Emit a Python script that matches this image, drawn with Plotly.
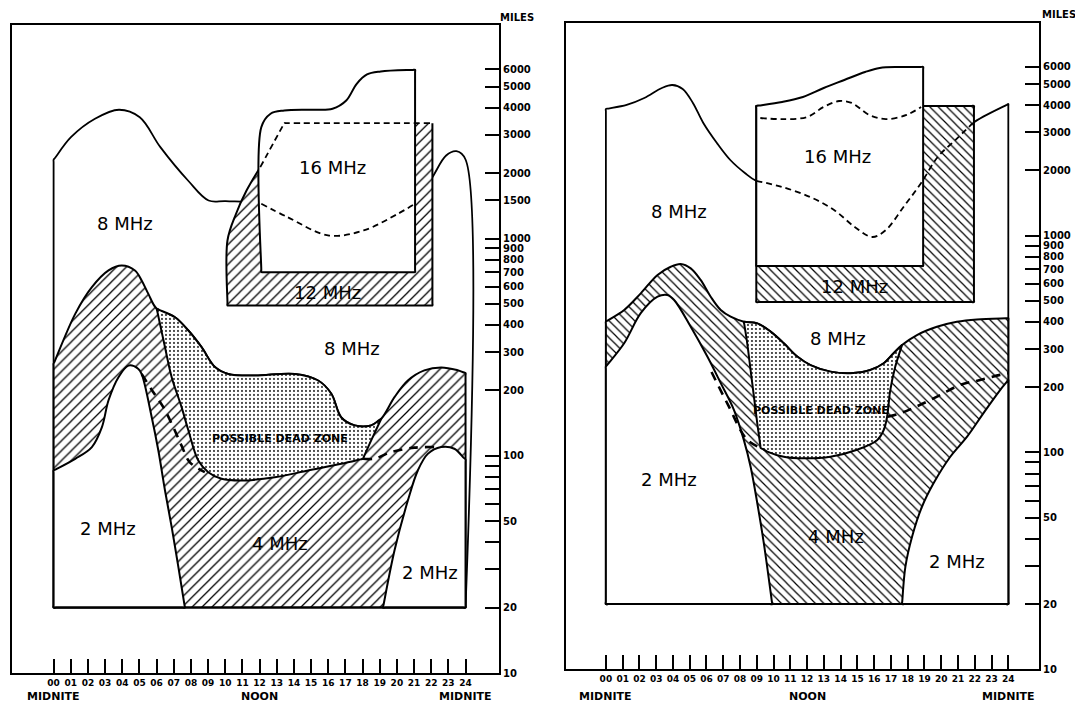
import math
import plotly.graph_objects as go

# ---------------- axis values ----------------
HOURS = list(range(25))
HOUR_LABELS = ["00", "01", "02", "03", "04", "05", "06", "07", "08", "09", "10", "11", "12",
               "13", "14", "15", "16", "17", "18", "19", "20", "21", "22", "23", "24"]
TIME_WORDS = ["MIDNITE", "NOON", "MIDNITE"]
TIME_WORD_HOURS = [0, 12, 24]

L_MILE_TICKS = [10, 20, 30, 40, 50, 60, 70, 80, 90, 100, 200, 300, 400, 500, 600, 700,
                800, 900, 1000, 1500, 2000, 3000, 4000, 5000, 6000]
L_MILE_LABELS = ["10", "20", "", "", "50", "", "", "", "", "100", "200", "300", "400", "500",
                 "600", "700", "800", "900", "1000", "1500", "2000", "3000", "4000", "5000", "6000"]
R_MILE_TICKS = [10, 20, 30, 40, 50, 60, 70, 80, 90, 100, 200, 300, 400, 500, 600, 700,
                800, 900, 1000, 2000, 3000, 4000, 5000, 6000]
R_MILE_LABELS = ["10", "20", "", "", "50", "", "", "", "", "100", "200", "300", "400", "500",
                 "600", "700", "800", "900", "1000", "2000", "3000", "4000", "5000", "6000"]

# ---------------- LEFT PANEL (hours, miles) ----------------
L_SKY8_H = [0, 0, 1.01, 2.41, 3.81, 5.02, 6.22, 7.83, 9.03, 10.03, 12.10, 13.64, 16.05, 18.06,
            20.06, 21.06, 22.07, 22.87, 23.47, 24, 24]
L_SKY8_M = [20, 2303, 2926, 3557, 3915, 3616, 2633, 1849, 1496, 1486, 1445, 1253, 1032, 1089,
            1300, 1445, 1915, 2410, 2523, 2310, 20]
L_MHZ12_H = [10.13, 10.13, 10.63, 11.24, 12.04, 13.44, 22.07, 22.07]
L_MHZ12_M = [492, 979, 1300, 1663, 2130, 3396, 3396, 492]
L_MHZ16_H = [12.10, 12.10, 12.64, 13.44, 15.05, 16.25, 17.05, 17.66, 18.26, 19.06, 21.06, 21.06]
L_MHZ16_M = [700, 3252, 3750, 3883, 3915, 3955, 4318, 5155, 5690, 5873, 5980, 700]
L_BAND_H = [0, 1.26, 2.23, 3.20, 3.97, 4.74, 5.13, 5.52]
L_BAND_M = [265, 450, 597, 713, 751, 713, 641, 556]
L_DEAD_TOP_H = [6.01, 7.07, 7.85, 8.62, 9.40, 10.17, 11.72, 14.05, 15.41, 16.18, 16.76, 17.54,
                18.51, 19.09]
L_DEAD_TOP_M = [475, 434, 377, 316, 256, 238, 234, 238, 222, 193, 150, 138, 138, 148]
L_BUMP_H = [19.86, 20.64, 21.6, 22.58, 23.5, 24]
L_BUMP_M = [186, 222, 247, 255, 248, 240]
L_DEAD_LOW_H = [18.41, 18.02, 16.76, 14.83, 12.88, 10.95, 9.78, 9.01, 8.43, 7.85, 7.46, 6.88, 6.49]
L_DEAD_LOW_M = [113.5, 96.8, 91.8, 85.5, 79.6, 76.9, 78.3, 84, 95, 131, 167, 230, 316]
L_2A_H = [0, 0, 1.26, 2.23, 2.81, 3.20, 3.78, 4.36, 4.94, 5.13, 5.72, 6.10, 6.49, 6.88, 7.27, 7.65]
L_2A_M = [20, 85.5, 96.8, 109.6, 135, 180, 230, 260, 251, 238, 150, 106, 69.2, 46.9, 30.7, 20]
L_2B_H = [19.19, 19.86, 20.64, 21.22, 21.80, 22.58, 23.35, 24, 24]
L_2B_M = [20, 36.6, 62.2, 85.5, 102, 109.6, 107.7, 96, 20]
L_SKIP1_H = [5.13, 5.81, 6.40, 6.98, 7.46, 7.94, 8.81]
L_SKIP1_M = [238, 196, 167, 135, 111, 93.3, 84]
L_SKIP2_H = [18.02, 18.7, 19.67, 21.02, 22.19]
L_SKIP2_M = [96.8, 97, 104, 109, 109.6]
L_LABELS = ["8 MHz", "16 MHz", "12 MHz", "8 MHz", "POSSIBLE DEAD ZONE", "2 MHz", "4 MHz", "2 MHz"]
L_LABEL_H = [4.15, 16.24, 15.95, 17.4, 13.2, 3.16, 13.2, 21.95]
L_LABEL_M = [1172, 2123, 563, 312, 120, 46.3, 39.5, 29]

# ---------------- RIGHT PANEL (hours, miles) ----------------
R_SKY8_H = [0, 0, 1.24, 2.29, 3.34, 3.96, 4.58, 5.19, 5.81, 6.62, 7.42, 8.29, 8.97, 10.51, 12.18,
            13.61, 14.84, 15.89, 16.70, 17.75, 18.80, 19.79, 20.84, 21.89, 24, 24]
R_SKY8_M = [20, 3840, 4010, 4315, 4800, 4955, 4750, 4095, 3311, 2677, 2234, 1946, 1790, 1678,
            1508, 1314, 1097, 986, 1063, 1357, 1750, 2307, 2762, 3311, 4050, 20]
R_MHZ12_H = [8.97, 8.97, 21.95, 21.95]
R_MHZ12_M = [494, 3965, 3965, 494]
R_MHZ16_H = [8.97, 8.97, 10.51, 11.75, 12.99, 14.22, 15.46, 16.33, 17.56, 18.92, 18.92]
R_MHZ16_M = [725, 3965, 4140, 4365, 4800, 5225, 5690, 5940, 5995, 6000, 725]
R_TOP12_H = [9.21, 10.51, 12.0, 12.99, 13.91, 14.66, 15.71, 16.70, 17.93, 18.80]
R_TOP12_M = [3490, 3450, 3525, 3925, 4180, 4095, 3605, 3450, 3605, 3925]
R_BAND_H = [0, 1.09, 2.08, 3.08, 3.87, 4.46, 5.06, 5.65, 6.25, 6.85, 7.44]
R_BAND_M = [401, 454, 542, 659, 719, 740, 707, 625, 523, 454, 423]
R_DEAD_TOP_H = [8.23, 9.03, 9.82, 10.61, 11.41, 12.20, 13.39, 14.58, 15.77, 16.57, 17.16, 17.66]
R_DEAD_TOP_M = [401, 394, 361, 319, 277, 253, 236, 232, 240, 258, 287, 313]
R_BUMP_H = [18.55, 19.74, 20.93, 22.13, 24]
R_BUMP_M = [348, 380, 401, 411, 416]
R_DEAD_LOW_H = [17.26, 16.96, 16.77, 16.57, 16.17, 14.98, 13.39, 11.80, 10.61, 9.62, 9.23, 9.03,
                8.83, 8.63, 8.43]
R_DEAD_LOW_M = [249, 194, 146, 127, 114, 103, 95.6, 94, 95.6, 101, 105, 136, 181, 240, 319]
R_2A_H = [0, 0, 1.09, 2.08, 3.08, 3.67, 4.07, 5.06, 6.05, 6.85, 7.64, 8.23, 8.63, 9.03, 9.42, 9.92]
R_2A_M = [20, 249, 319, 439, 523, 533, 505, 380, 277, 209, 157, 114, 86, 58.3, 38.1, 20]
R_2B_H = [17.66, 17.86, 18.26, 18.85, 19.54, 20.54, 21.53, 22.52, 23.51, 24, 24]
R_2B_M = [20, 29.7, 40.9, 56.2, 72.1, 95.6, 118, 152, 194, 216, 20]
R_SKIP1_H = [6.3, 7.3, 8.4, 9.23]
R_SKIP1_M = [235, 165, 115, 105]
R_SKIP2_H = [16.8, 17.6, 18.75, 19.94, 21.13, 22.32, 23.51, 24]
R_SKIP2_M = [146, 152, 166, 184, 205, 216, 228, 232]
R_LABELS = ["8 MHz", "16 MHz", "12 MHz", "8 MHz", "POSSIBLE DEAD ZONE", "2 MHz", "4 MHz", "2 MHz"]
R_LABEL_H = [4.35, 13.8, 14.8, 13.85, 12.85, 3.74, 13.75, 20.95]
R_LABEL_M = [1291, 2314, 582, 337, 157, 74.7, 40.9, 31.4]

BASE_H = [0, 24]
BASE_M = [20, 20]

# ---------------- drawing helpers ----------------
PX_H = 17.0
PX_DEC = 217.0
fig = go.Figure()


def sharpen(hs, ms, corners, closed):
    n = len(hs)
    lg = [math.log10(m) for m in ms]

    def near(i, j):
        dh = hs[j] - hs[i]
        dl = lg[j] - lg[i]
        d = math.hypot(dh * PX_H, dl * PX_DEC)
        t = min(0.3, 2.5 / d) if d > 0 else 0.0
        return hs[i] + t * dh, 10 ** (lg[i] + t * dl)

    H, M = [], []
    for i in range(n):
        if i in corners:
            p = i - 1 if i > 0 else (n - 1 if closed else None)
            q = i + 1 if i < n - 1 else (0 if closed else None)
            if p is not None:
                a, b = near(i, p)
                H.append(a); M.append(b)
            H.append(hs[i]); M.append(ms[i])
            if q is not None:
                a, b = near(i, q)
                H.append(a); M.append(b)
        else:
            H.append(hs[i]); M.append(ms[i])
    if closed:
        H.append(H[0]); M.append(M[0])
    return H, M


def poly(xa, ya, hs, ms, corners, pattern=None, size=7, solidity=0.2, lw=2.0):
    H, M = sharpen(hs, ms, corners, True)
    kw = dict(x=H, y=M, xaxis=xa, yaxis=ya, mode="lines", fill="toself", fillcolor="white",
              line=dict(color="black", width=lw, shape="spline", smoothing=1.0),
              hoverinfo="skip", showlegend=False)
    if pattern:
        kw["fillpattern"] = dict(shape=pattern, fgcolor="black", bgcolor="white", size=size,
                                 solidity=solidity, fillmode="replace")
    fig.add_trace(go.Scatter(**kw))


def path(xa, ya, hs, ms, corners=(), lw=2.0, dash="solid"):
    H, M = sharpen(hs, ms, corners, False)
    fig.add_trace(go.Scatter(x=H, y=M, xaxis=xa, yaxis=ya, mode="lines",
                             line=dict(color="black", width=lw, dash=dash, shape="spline",
                                       smoothing=1.0),
                             hoverinfo="skip", showlegend=False))


THIN_DASH = "6px,4px"
THICK_DASH = "9px,7px"
DOTS = dict(pattern=".", size=4, solidity=0.16)

# ---------------- left panel ----------------
xa, ya = "x", "y"
path(xa, ya, L_SKY8_H, L_SKY8_M, corners=[1], lw=1.8)
poly(xa, ya, L_MHZ12_H, L_MHZ12_M, [0, 5, 6, 7], pattern="/", size=7, solidity=0.18, lw=0)
order = [4, 3, 2, 1, 0, 7, 6]
path(xa, ya, [L_MHZ12_H[i] for i in order], [L_MHZ12_M[i] for i in order], corners=[4, 5], lw=2)
poly(xa, ya, L_MHZ16_H, L_MHZ16_M, [0, 10, 11], lw=2)
path(xa, ya, L_SKY8_H[10:16], L_SKY8_M[10:16], lw=1.8, dash=THIN_DASH)
path(xa, ya, L_MHZ12_H[4:7], L_MHZ12_M[4:7], corners=[1], lw=1.8, dash=THIN_DASH)

l4_h = L_BAND_H + L_DEAD_TOP_H + L_BUMP_H + [24, 0]
l4_m = L_BAND_M + L_DEAD_TOP_M + L_BUMP_M + [20, 20]
n4 = len(l4_h)
poly(xa, ya, l4_h, l4_m, [0, n4 - 3, n4 - 2, n4 - 1], pattern="/", size=7, solidity=0.18)
ld_h = L_DEAD_TOP_H + L_DEAD_LOW_H
ld_m = L_DEAD_TOP_M + L_DEAD_LOW_M
nt = len(L_DEAD_TOP_H)
poly(xa, ya, ld_h, ld_m, [0, nt - 1, nt + 1], **DOTS)
poly(xa, ya, L_2A_H, L_2A_M, [0, 1, len(L_2A_H) - 1])
poly(xa, ya, L_2B_H, L_2B_M, [0, len(L_2B_H) - 2, len(L_2B_H) - 1])
path(xa, ya, L_SKIP1_H, L_SKIP1_M, lw=2.6, dash=THICK_DASH)
path(xa, ya, L_SKIP2_H, L_SKIP2_M, lw=2.6, dash=THICK_DASH)
path(xa, ya, BASE_H, BASE_M, lw=2)

# ---------------- right panel ----------------
xa, ya = "x2", "y2"
path(xa, ya, R_SKY8_H, R_SKY8_M, corners=[1, 24], lw=1.8)
poly(xa, ya, R_MHZ12_H, R_MHZ12_M, [0, 1, 2, 3], pattern="\\", size=6, solidity=0.2, lw=2)
poly(xa, ya, R_MHZ16_H, R_MHZ16_M, [0, 1, 9, 10], lw=2)
path(xa, ya, R_SKY8_H[12:24], R_SKY8_M[12:24], lw=1.8, dash=THIN_DASH)
path(xa, ya, R_TOP12_H, R_TOP12_M, lw=1.8, dash=THIN_DASH)

r4_h = R_BAND_H + R_DEAD_TOP_H + R_BUMP_H + [24, 0]
r4_m = R_BAND_M + R_DEAD_TOP_M + R_BUMP_M + [20, 20]
n4 = len(r4_h)
poly(xa, ya, r4_h, r4_m, [0, n4 - 3, n4 - 2, n4 - 1], pattern="\\", size=6, solidity=0.2)
rd_h = R_DEAD_TOP_H + R_DEAD_LOW_H
rd_m = R_DEAD_TOP_M + R_DEAD_LOW_M
nt = len(R_DEAD_TOP_H)
poly(xa, ya, rd_h, rd_m, [0, nt - 1, nt + 10], **DOTS)
poly(xa, ya, R_2A_H, R_2A_M, [0, 1, len(R_2A_H) - 1])
poly(xa, ya, R_2B_H, R_2B_M, [0, len(R_2B_H) - 2, len(R_2B_H) - 1])
path(xa, ya, R_SKIP1_H, R_SKIP1_M, lw=2.6, dash=THICK_DASH)
path(xa, ya, R_SKIP2_H, R_SKIP2_M, lw=2.6, dash=THICK_DASH)
path(xa, ya, BASE_H, BASE_M, lw=2)

# ---------------- annotations ----------------
BIG = dict(family="DejaVu Sans", size=18, color="black")
SMALL = dict(family="DejaVu Sans", size=11, color="black", weight="bold")
WORD = dict(family="DejaVu Sans", size=11, color="black", weight="bold")
annotations = []
for texts, hs, ms, xr, yr in [(L_LABELS, L_LABEL_H, L_LABEL_M, "x", "y"),
                              (R_LABELS, R_LABEL_H, R_LABEL_M, "x2", "y2")]:
    for t, h, m in zip(texts, hs, ms):
        annotations.append(dict(x=h, y=math.log10(m), xref=xr, yref=yr, text=t, showarrow=False,
                                xanchor="center", yanchor="middle",
                                font=SMALL if t.startswith("POSSIBLE") else BIG))
    for w, h in zip(TIME_WORDS, TIME_WORD_HOURS):
        annotations.append(dict(x=h, y=-0.0354, xref=xr, yref="paper", text=w, showarrow=False,
                                xanchor="center", yanchor="middle", font=WORD))
for px, py in [(0.4917, 1.009), (1.019, 1.0138)]:
    annotations.append(dict(x=px, y=py, xref="paper", yref="paper", text="MILES",
                            showarrow=False, xanchor="center", yanchor="middle",
                            font=dict(family="DejaVu Sans", size=10, color="black",
                                      weight="bold")))

xcommon = dict(tickvals=HOURS, ticktext=HOUR_LABELS, ticks="inside", ticklen=14, tickwidth=1.5,
               tickcolor="black", showline=True, linecolor="black", linewidth=2, mirror=True,
               showgrid=False, zeroline=False, tickangle=0,
               tickfont=dict(family="DejaVu Sans", size=9, color="black", weight="bold"))
ycommon = dict(type="log", side="right", ticks="inside", ticklen=14, tickwidth=2,
               tickcolor="black", showline=True, linecolor="black", linewidth=2, mirror=True,
               showgrid=False, zeroline=False,
               tickfont=dict(family="DejaVu Sans", size=10, color="black", weight="bold"))

fig.update_layout(
    width=1083, height=704,
    margin=dict(l=2, r=52, t=15, b=39),
    paper_bgcolor="white", plot_bgcolor="white", showlegend=False,
    xaxis=dict(domain=[0, 0.4742], range=[-2.424, 25.95], anchor="y", **xcommon),
    yaxis=dict(domain=[0, 0.997], range=[1, 3.983], anchor="x", tickvals=L_MILE_TICKS,
               ticktext=L_MILE_LABELS, **ycommon),
    xaxis2=dict(domain=[0.5394, 1], range=[-2.381, 25.83], anchor="y2", **xcommon),
    yaxis2=dict(domain=[0.0057, 1], range=[1, 3.981], anchor="x2", tickvals=R_MILE_TICKS,
                ticktext=R_MILE_LABELS, **ycommon),
    annotations=annotations,
)

fig.write_html("out.html")
